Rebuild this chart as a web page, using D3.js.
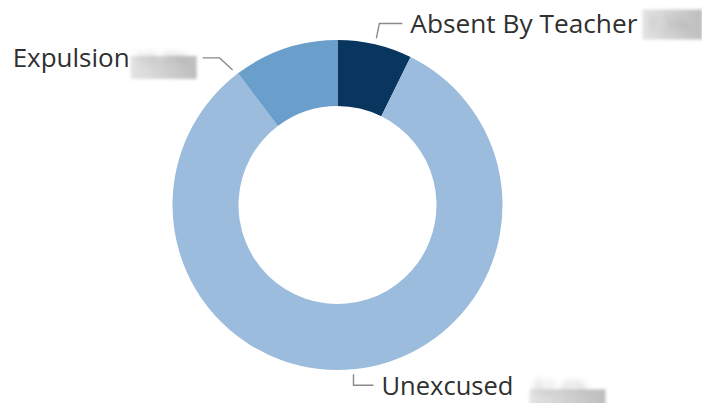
<!DOCTYPE html>
<html>
<head>
<meta charset="utf-8">
<script src="https://cdn.jsdelivr.net/npm/d3@7"></script>
<style>
  html, body { margin: 0; padding: 0; background: #fff; }
  svg { display: block; }
  .lbl { font-family: "Open Sans", sans-serif; font-size: 25.5px; fill: #303030; }
  .val { font-family: "Open Sans", sans-serif; font-size: 19px; }
</style>
</head>
<body>
<div id="chart"></div>
<script>
// data (clockwise from 12 o'clock)
const categories = ['Absent By Teacher', 'Unexcused', 'Expulsion'];
const values = [7.3, 82.4, 10.3];
const colors = ['#08365f', '#9bbcdc', '#6a9ecb'];

const width = 702, height = 403;
const cx = 337.5, cy = 205;
const outerR = 165, innerR = 99;

const svg = d3.select('#chart').append('svg')
  .attr('width', width)
  .attr('height', height);

const defs = svg.append('defs');
defs.append('filter').attr('id', 'blurBox')
  .attr('x', '-20%').attr('y', '-30%').attr('width', '140%').attr('height', '160%')
  .append('feGaussianBlur').attr('stdDeviation', 1.6);
defs.append('filter').attr('id', 'blurText')
  .attr('x', '-20%').attr('y', '-40%').attr('width', '140%').attr('height', '180%')
  .append('feGaussianBlur').attr('stdDeviation', 3);
const grad = defs.append('linearGradient').attr('id', 'smudge')
  .attr('x1', 0).attr('x2', 1).attr('y1', 0).attr('y2', 0);
grad.append('stop').attr('offset', 0).attr('stop-color', '#e4e4e4');
grad.append('stop').attr('offset', 1).attr('stop-color', '#bdbdbd');

const data = categories.map((c, i) => ({ name: c, value: values[i], color: colors[i] }));
const total = d3.sum(values);

const pie = d3.pie().sort(null).value(d => d.value);
const arc = d3.arc().innerRadius(innerR).outerRadius(outerR);
const arcs = pie(data);

const g = svg.append('g').attr('transform', `translate(${cx},${cy})`);

g.selectAll('path.slice')
  .data(arcs)
  .enter()
  .append('path')
  .attr('class', 'slice')
  .attr('d', arc)
  .attr('fill', d => d.data.color);

// label layout: where the leader leaves the ring, knee, run, text width, smudge box
const labelCfg = [
  { at: 0.5, r1: 171, knee: [3, -15], run: 23, side: 1, dy: 10, tw: 227, box: [232, -24, 60, 30] },
  { at: 0.5, r1: 170, knee: [0, 11], run: 20, side: 1, dy: 10, tw: 132, box: [148, -6, 76, 28] },
  { at: -0.02, r1: 171, knee: [-13, -12], run: 17, side: -1, dy: 9, tw: 117, box: [0, -11, 66, 23] }
];

const fmt = d3.format('.1%');

arcs.forEach((a, i) => {
  const cfg = labelCfg[i];
  const ang = a.startAngle + (a.endAngle - a.startAngle) * cfg.at;
  const p0 = [Math.sin(ang) * cfg.r1, -Math.cos(ang) * cfg.r1];
  const p1 = [p0[0] + cfg.knee[0], p0[1] + cfg.knee[1]];
  const p2 = [p1[0] + cfg.run * cfg.side, p1[1]];

  g.append('polyline')
    .attr('points', [p0, p1, p2].map(p => p.join(',')).join(' '))
    .attr('fill', 'none')
    .attr('stroke', '#8a8a8a')
    .attr('stroke-width', 1.4);

  const tx = cfg.side > 0 ? p2[0] + 8 : p2[0] - 6;
  const ty = p1[1] + cfg.dy;
  const lbl = g.append('g').attr('transform', `translate(${tx},${ty})`);

  const nameX = cfg.side > 0 ? 0 : -(cfg.box[2] + 1 + cfg.tw);
  const boxX = cfg.side > 0 ? cfg.box[0] : -cfg.box[2];

  lbl.append('text')
    .attr('class', 'lbl')
    .attr('x', nameX)
    .attr('y', 0)
    .attr('textLength', cfg.tw)
    .attr('lengthAdjust', 'spacingAndGlyphs')
    .text(a.data.name);

  // the value is redacted in the reference: blurred smudge
  lbl.append('rect')
    .attr('x', boxX)
    .attr('y', cfg.box[1])
    .attr('width', cfg.box[2])
    .attr('height', cfg.box[3])
    .attr('fill', 'url(#smudge)')
    .attr('filter', 'url(#blurBox)');
  lbl.append('text')
    .attr('class', 'val')
    .attr('x', boxX + 4)
    .attr('y', -2)
    .style('fill', '#a0a0a0')
    .attr('filter', 'url(#blurText)')
    .attr('opacity', 0.6)
    .text(fmt(a.data.value / total));
});
</script>
</body>
</html>
